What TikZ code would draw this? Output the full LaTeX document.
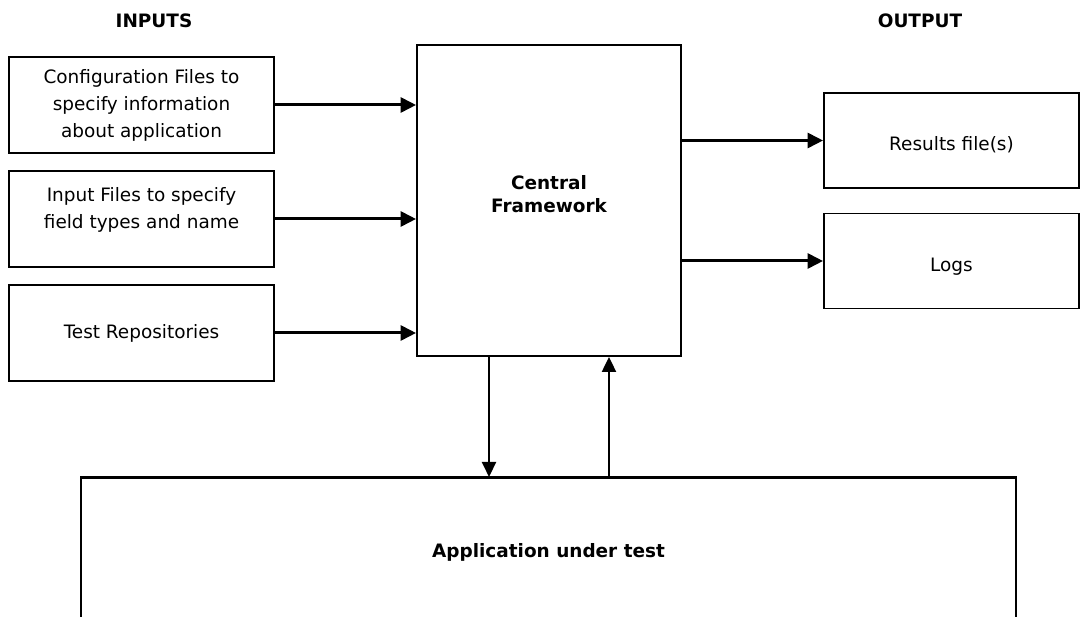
\documentclass[tikz,border=0pt]{standalone}
\usepackage{fontspec}
\setmainfont{DejaVu Sans}
\usepackage{xcolor}
\usepackage{tikz}
\usetikzlibrary{arrows.meta}
\definecolor{ink}{HTML}{000000}
\tikzset{
  box/.style={draw=ink, line width=1.1pt, fill=white, align=center, inner sep=2pt,
    font=\fontsize{10.5}{15.4}\selectfont},
  side/.style={box, minimum width=5.3cm, minimum height=1.92cm},
  drop/.style={text height=0.5cm, text depth=0.09cm},
  flow/.style={draw=ink, line width=1.7pt, -{Triangle[length=3.1mm,width=3mm]}},
  link/.style={draw=ink, line width=1.2pt, -{Triangle[length=3mm,width=2.8mm]}},
  head/.style={font=\fontsize{10.5}{15.4}\selectfont\bfseries, align=center},
}

\begin{document}
\begin{tikzpicture}[x=0.02cm, y=-0.02cm]
  \useasboundingbox (0,0) rectangle (1080,617);
  % column titles
  \node[head] (intitle) at (154,21) {INPUTS};
  \node[head] (outtitle) at (920,21) {OUTPUT};
  % inputs
  \node[side] (config) at (141.5,105) {Configuration Files to\\specify information\\about application};
  \node[side] (fields) at (141.5,219) {Input Files to specify\\field types and name\\[-8pt]\strut};
  \node[side] (repos) at (141.5,333) {Test Repositories};
  % framework
  \node[box, minimum width=5.28cm, minimum height=6.22cm] (core) at (549,200.5) {};
  \node[head, font=\fontsize{10.5}{13.5}\selectfont\bfseries] (coretext) at (549,194) {Central\\Framework};
  % outputs
  \node[side, drop, minimum width=5.1cm, minimum height=1.9cm] (results) at (951.5,140.5) {Results file(s)};
  \node[side, drop, minimum width=5.1cm, minimum height=1.9cm] (logs) at (951.5,261) {Logs};
  % application box runs past the bottom edge
  \node[box, minimum width=18.7cm, minimum height=4.6cm, anchor=north] (app) at (548.5,477) {};
  \draw[ink, line width=1.5pt] (app.north west) -- (app.north east);
  \node[head] (apptext) at (548.5,552) {Application under test};
  \foreach \src in {config,fields,repos}
    \draw[flow] (\src.east) -- (\src.east -| core.west);
  \foreach \dst in {results,logs}
    \draw[flow] (\dst.west -| core.east) -- (\dst.west);
  \draw[link] ([xshift=-1.2cm]core.south) -- ([xshift=-1.2cm]core.south |- app.north);
  \draw[link] ([xshift=1.2cm]core.south |- app.north) -- ([xshift=1.2cm]core.south);
\end{tikzpicture}
\end{document}
